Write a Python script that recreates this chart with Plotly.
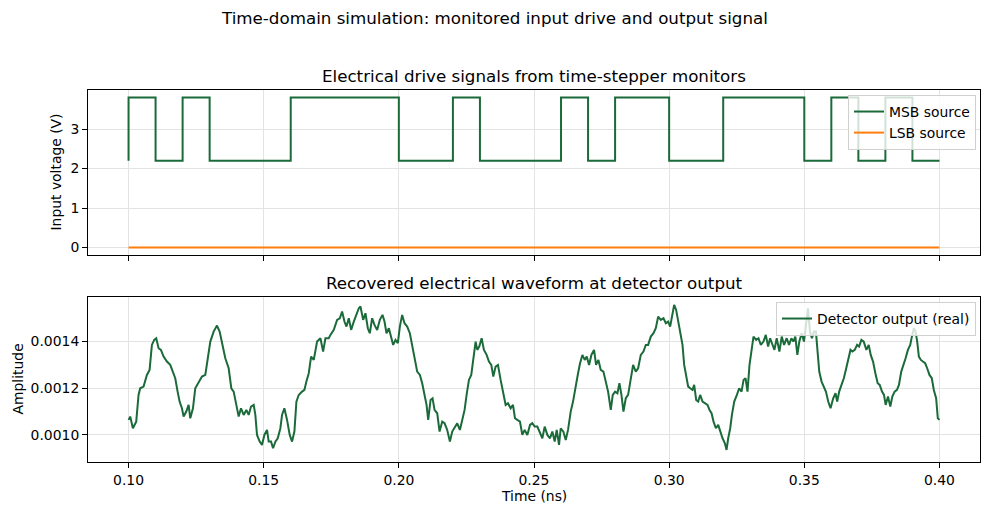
import plotly.graph_objects as go

# ---------------- data ----------------
bit_start = 0.10
bit_period = 0.01
msb_initial = 2.2
msb_low, msb_high = 2.2, 3.8
msb_bits = [1, 0, 1, 0, 0, 0, 1, 1, 1, 1,
            0, 0, 1, 0, 0, 0, 1, 0, 1, 1,
            0, 0, 1, 1, 1, 0, 1, 0, 1, 0]
lsb_time = [0.10, 0.40]
lsb_value = [0.0, 0.0]

det_time = [
    0.10000, 0.10062, 0.10160, 0.10284, 0.10370, 0.10432, 0.10556, 0.10679, 0.10778, 0.10864,
    0.10951, 0.11025, 0.11111, 0.11198, 0.11296, 0.11420, 0.11543, 0.11642, 0.11728, 0.11815,
    0.11889, 0.11975, 0.12037, 0.12136, 0.12222, 0.12284, 0.12383, 0.12469, 0.12593, 0.12716,
    0.12840, 0.12926, 0.13025, 0.13148, 0.13272, 0.13370, 0.13457, 0.13580, 0.13704, 0.13802,
    0.13889, 0.13988, 0.14074, 0.14160, 0.14259, 0.14358, 0.14444, 0.14531, 0.14630, 0.14691,
    0.14753, 0.14852, 0.14938, 0.15025, 0.15123, 0.15185, 0.15272, 0.15346, 0.15432, 0.15519,
    0.15617, 0.15679, 0.15765, 0.15864, 0.15963, 0.16049, 0.16136, 0.16210, 0.16296, 0.16420,
    0.16506, 0.16580, 0.16667, 0.16753, 0.16852, 0.16975, 0.17099, 0.17198, 0.17284, 0.17407,
    0.17469, 0.17593, 0.17716, 0.17815, 0.17901, 0.17988, 0.18062, 0.18148, 0.18235, 0.18333,
    0.18432, 0.18519, 0.18580, 0.18679, 0.18765, 0.18852, 0.18926, 0.19012, 0.19099, 0.19198,
    0.19296, 0.19395, 0.19469, 0.19543, 0.19630, 0.19716, 0.19790, 0.19877, 0.19963, 0.20037,
    0.20123, 0.20210, 0.20309, 0.20407, 0.20494, 0.20580, 0.20679, 0.20778, 0.20864, 0.20951,
    0.21025, 0.21086, 0.21173, 0.21247, 0.21321, 0.21420, 0.21506, 0.21605, 0.21691, 0.21790,
    0.21889, 0.21975, 0.22062, 0.22160, 0.22259, 0.22346, 0.22432, 0.22506, 0.22593, 0.22679,
    0.22753, 0.22840, 0.22901, 0.22975, 0.23062, 0.23148, 0.23247, 0.23333, 0.23420, 0.23494,
    0.23580, 0.23667, 0.23765, 0.23864, 0.23951, 0.24037, 0.24136, 0.24222, 0.24296, 0.24383,
    0.24481, 0.24568, 0.24654, 0.24753, 0.24852,
    0.24938, 0.25025, 0.25123, 0.25222, 0.25309, 0.25395, 0.25494, 0.25593, 0.25679, 0.25765,
    0.25840, 0.25926, 0.25988, 0.26086, 0.26173, 0.26259, 0.26358, 0.26444, 0.26543, 0.26630,
    0.26704, 0.26790, 0.26877, 0.26951, 0.27037, 0.27123, 0.27222, 0.27296, 0.27383, 0.27469,
    0.27568, 0.27654, 0.27741, 0.27840, 0.27914, 0.28000, 0.28086, 0.28160, 0.28235, 0.28309,
    0.28395, 0.28481, 0.28580, 0.28667, 0.28765, 0.28852, 0.28951, 0.29049, 0.29136, 0.29222,
    0.29321, 0.29420, 0.29506, 0.29593, 0.29691, 0.29790, 0.29877, 0.29963, 0.30037, 0.30123,
    0.30185, 0.30259, 0.30333, 0.30407, 0.30494, 0.30556, 0.30630, 0.30704, 0.30778, 0.30864,
    0.30926, 0.31000, 0.31074, 0.31148, 0.31235, 0.31321, 0.31420, 0.31494, 0.31568, 0.31642,
    0.31728, 0.31815, 0.31889, 0.31975, 0.32062, 0.32123, 0.32185, 0.32259,
    0.32322, 0.32408, 0.32506, 0.32592, 0.32678, 0.32752, 0.32826, 0.32899, 0.32973, 0.33047,
    0.33120, 0.33219, 0.33305, 0.33391, 0.33489, 0.33575, 0.33661, 0.33735, 0.33821, 0.33894,
    0.33980, 0.34079, 0.34165, 0.34251, 0.34349, 0.34435, 0.34521, 0.34595, 0.34668, 0.34742,
    0.34816, 0.34902, 0.34988, 0.35061, 0.35135, 0.35209, 0.35283, 0.35356, 0.35430, 0.35491,
    0.35553, 0.35639, 0.35725, 0.35799, 0.35885, 0.35971, 0.36069, 0.36155, 0.36216, 0.36290,
    0.36376, 0.36462, 0.36536, 0.36622, 0.36708, 0.36781, 0.36867, 0.36953, 0.37027, 0.37113,
    0.37199, 0.37297, 0.37383, 0.37457, 0.37543, 0.37629, 0.37715, 0.37789, 0.37875, 0.37948,
    0.38010, 0.38096, 0.38182, 0.38256, 0.38342, 0.38428, 0.38501, 0.38587, 0.38673, 0.38747,
    0.38833, 0.38919, 0.38993, 0.39054, 0.39115, 0.39177, 0.39238, 0.39312, 0.39386, 0.39472,
    0.39545, 0.39631, 0.39717, 0.39791, 0.39877, 0.39939, 0.40000,
]
det_value = [
    1.0643e-3, 1.0786e-3, 1.0286e-3, 1.0571e-3, 1.1714e-3, 1.2000e-3, 1.2071e-3, 1.2571e-3, 1.2786e-3, 1.3857e-3,
    1.4071e-3, 1.4143e-3, 1.3714e-3, 1.3643e-3, 1.3357e-3, 1.3143e-3, 1.3000e-3, 1.2643e-3, 1.2429e-3, 1.1857e-3,
    1.1429e-3, 1.1143e-3, 1.0786e-3, 1.1000e-3, 1.1286e-3, 1.0714e-3, 1.1143e-3, 1.2000e-3, 1.2286e-3, 1.2500e-3,
    1.2571e-3, 1.3286e-3, 1.4000e-3, 1.4429e-3, 1.4686e-3, 1.4429e-3, 1.4000e-3, 1.3286e-3, 1.2857e-3, 1.2000e-3,
    1.1857e-3, 1.1286e-3, 1.0786e-3, 1.1143e-3, 1.0857e-3, 1.1071e-3, 1.0857e-3, 1.1214e-3, 1.1286e-3, 1.0857e-3,
    1.0000e-3, 0.9714e-3, 0.9571e-3, 1.0000e-3, 1.0214e-3, 0.9714e-3, 0.9714e-3, 0.9429e-3, 0.9714e-3, 0.9857e-3,
    1.0286e-3, 1.0857e-3, 1.1143e-3, 1.0643e-3, 1.0000e-3, 0.9714e-3, 1.0143e-3, 1.1429e-3, 1.1714e-3, 1.1857e-3,
    1.1929e-3, 1.2286e-3, 1.2643e-3, 1.3357e-3, 1.3214e-3, 1.4000e-3, 1.4143e-3, 1.3571e-3, 1.4143e-3, 1.4143e-3,
    1.4286e-3, 1.4500e-3, 1.4929e-3, 1.5000e-3, 1.5286e-3, 1.4857e-3, 1.4643e-3, 1.5000e-3, 1.4500e-3, 1.4857e-3,
    1.5143e-3, 1.5429e-3, 1.5500e-3, 1.4929e-3, 1.5214e-3, 1.4571e-3, 1.4357e-3, 1.5000e-3, 1.4714e-3, 1.4500e-3,
    1.4929e-3, 1.5143e-3, 1.4857e-3, 1.4357e-3, 1.4571e-3, 1.4143e-3, 1.3857e-3, 1.4071e-3, 1.3929e-3, 1.4643e-3,
    1.5143e-3, 1.4786e-3, 1.4643e-3, 1.4357e-3, 1.3857e-3, 1.3286e-3, 1.2714e-3, 1.2571e-3, 1.2214e-3, 1.1714e-3,
    1.1286e-3, 1.0643e-3, 1.1500e-3, 1.1571e-3, 1.1071e-3, 1.0929e-3, 1.0143e-3, 1.0571e-3, 1.0500e-3, 1.0214e-3,
    0.9714e-3, 1.0143e-3, 1.0286e-3, 1.0500e-3, 1.0214e-3, 1.0714e-3, 1.1071e-3, 1.1714e-3, 1.2357e-3, 1.2571e-3,
    1.3286e-3, 1.4000e-3, 1.3643e-3, 1.3786e-3, 1.4143e-3, 1.3643e-3, 1.3429e-3, 1.3143e-3, 1.3000e-3, 1.2500e-3,
    1.2929e-3, 1.3000e-3, 1.2357e-3, 1.1857e-3, 1.1286e-3, 1.1357e-3, 1.1143e-3, 1.1286e-3, 1.0714e-3, 1.0643e-3,
    1.0571e-3, 1.0000e-3, 1.0214e-3, 1.0000e-3, 1.0429e-3,
    1.0500e-3, 1.0357e-3, 1.0357e-3, 1.0071e-3, 0.9857e-3, 1.0357e-3, 1.0000e-3, 0.9857e-3, 1.0143e-3, 0.9714e-3,
    1.0214e-3, 0.9571e-3, 1.0286e-3, 1.0143e-3, 0.9786e-3, 1.0214e-3, 1.1000e-3, 1.1429e-3, 1.2143e-3, 1.2643e-3,
    1.3071e-3, 1.3429e-3, 1.3214e-3, 1.3357e-3, 1.3000e-3, 1.3429e-3, 1.3643e-3, 1.3000e-3, 1.3214e-3, 1.2786e-3,
    1.2714e-3, 1.2286e-3, 1.1857e-3, 1.1071e-3, 1.1714e-3, 1.1857e-3, 1.1786e-3, 1.2214e-3, 1.1714e-3, 1.1000e-3,
    1.1571e-3, 1.1714e-3, 1.2429e-3, 1.3000e-3, 1.2714e-3, 1.2857e-3, 1.3429e-3, 1.3571e-3, 1.3857e-3, 1.3857e-3,
    1.4214e-3, 1.4357e-3, 1.4571e-3, 1.5071e-3, 1.4929e-3, 1.5000e-3, 1.4786e-3, 1.4857e-3, 1.4643e-3, 1.5286e-3,
    1.5571e-3, 1.5357e-3, 1.4857e-3, 1.4500e-3, 1.3857e-3, 1.3000e-3, 1.2429e-3, 1.2071e-3, 1.2000e-3, 1.1929e-3,
    1.2143e-3, 1.1500e-3, 1.1429e-3, 1.1714e-3, 1.1429e-3, 1.1357e-3, 1.1286e-3, 1.1071e-3, 1.0929e-3, 1.0571e-3,
    1.0286e-3, 1.0429e-3, 1.0143e-3, 0.9857e-3, 0.9643e-3, 0.9357e-3, 0.9857e-3, 1.0286e-3,
    1.0857e-3, 1.1429e-3, 1.1714e-3, 1.2000e-3, 1.1857e-3, 1.2357e-3, 1.2429e-3, 1.1857e-3, 1.3000e-3, 1.3571e-3,
    1.4214e-3, 1.4071e-3, 1.4143e-3, 1.3857e-3, 1.4000e-3, 1.4286e-3, 1.3786e-3, 1.4143e-3, 1.3857e-3, 1.3643e-3,
    1.4143e-3, 1.3571e-3, 1.4214e-3, 1.3857e-3, 1.4143e-3, 1.3857e-3, 1.4143e-3, 1.4000e-3, 1.4214e-3, 1.3429e-3,
    1.4000e-3, 1.4357e-3, 1.4000e-3, 1.4857e-3, 1.5429e-3, 1.4429e-3, 1.4143e-3, 1.4429e-3, 1.4429e-3, 1.3571e-3,
    1.2714e-3, 1.2286e-3, 1.2071e-3, 1.1857e-3, 1.1429e-3, 1.1143e-3, 1.1571e-3, 1.1786e-3, 1.1429e-3, 1.1857e-3,
    1.2143e-3, 1.2429e-3, 1.2786e-3, 1.3286e-3, 1.3643e-3, 1.3571e-3, 1.3643e-3, 1.3857e-3, 1.3786e-3, 1.4071e-3,
    1.4000e-3, 1.3643e-3, 1.3857e-3, 1.3429e-3, 1.3143e-3, 1.2643e-3, 1.2214e-3, 1.2143e-3, 1.1857e-3, 1.1714e-3,
    1.1286e-3, 1.1643e-3, 1.1214e-3, 1.1643e-3, 1.1857e-3, 1.1929e-3, 1.2143e-3, 1.2714e-3, 1.3000e-3, 1.3286e-3,
    1.3643e-3, 1.3857e-3, 1.4286e-3, 1.4571e-3, 1.4429e-3, 1.4000e-3, 1.3357e-3, 1.3214e-3, 1.3143e-3, 1.3071e-3,
    1.2857e-3, 1.2571e-3, 1.2429e-3, 1.1929e-3, 1.1571e-3, 1.0714e-3, 1.0643e-3,
]

x_ticks = [0.10, 0.15, 0.20, 0.25, 0.30, 0.35, 0.40]
volt_ticks = [0, 1, 2, 3]
amp_ticks = [0.0010, 0.0012, 0.0014]

# ---------------- build step waveform ----------------
msb_t = [bit_start]
msb_v = [msb_initial]
for i, b in enumerate(msb_bits):
    msb_t.append(bit_start + i * bit_period)
    msb_v.append(msb_high if b else msb_low)
msb_t.append(bit_start + len(msb_bits) * bit_period)
msb_v.append(msb_high if msb_bits[-1] else msb_low)

GREEN = "#1b6a3a"
ORANGE = "#ff7f0e"
FONT = "DejaVu Sans"
W, H = 989, 515
FS = 13.9
FT = 16.7

fig = go.Figure()
fig.add_trace(go.Scatter(x=msb_t, y=msb_v, mode="lines", line=dict(color=GREEN, width=2, shape="hv"),
                         name="MSB source", xaxis="x", yaxis="y", legend="legend"))
fig.add_trace(go.Scatter(x=lsb_time, y=lsb_value, mode="lines", line=dict(color=ORANGE, width=2),
                         name="LSB source", xaxis="x", yaxis="y", legend="legend"))
fig.add_trace(go.Scatter(x=det_time, y=det_value, mode="lines", line=dict(color=GREEN, width=2),
                         name="Detector output (real)", xaxis="x2", yaxis="y2", legend="legend2"))

xdom = [88 / W, 980 / W]
top_dom = [(H - 255) / H, (H - 90) / H]
bot_dom = [(H - 462) / H, (H - 297) / H]

axis_common = dict(showline=True, mirror=True, linecolor="black", linewidth=1,
                   ticks="outside", ticklen=5, tickwidth=1, tickcolor="black",
                   showgrid=True, gridcolor="#e3e3e3", gridwidth=1, zeroline=False,
                   tickfont=dict(family=FONT, size=FS, color="black"))

legend_common = dict(bgcolor="rgba(255,255,255,0.8)", bordercolor="#d0d0d0", borderwidth=1,
                     font=dict(family=FONT, size=FS, color="black"), xanchor="right", yanchor="top",
                     tracegroupgap=0, itemwidth=30)

fig.update_layout(
    width=W, height=H,
    margin=dict(l=0, r=0, t=0, b=0),
    paper_bgcolor="white", plot_bgcolor="white",
    font=dict(family=FONT, color="black"),
    xaxis=dict(domain=xdom, range=[0.085, 0.415], tickvals=x_ticks, showticklabels=False,
               anchor="y", **axis_common),
    yaxis=dict(domain=top_dom, range=[-0.19, 3.99], tickvals=volt_ticks, anchor="x", **axis_common),
    xaxis2=dict(domain=xdom, range=[0.085, 0.415], tickvals=x_ticks, tickformat=".2f",
                anchor="y2", matches="x", **axis_common),
    yaxis2=dict(domain=bot_dom, range=[0.000884, 0.001591], tickvals=amp_ticks, tickformat=".4f",
                anchor="x2", **axis_common),
    legend=dict(x=976 / W, y=(H - 95) / H, **legend_common),
    legend2=dict(x=976 / W, y=(H - 302) / H, **legend_common),
    showlegend=True,
)

cx = (xdom[0] + xdom[1]) / 2
ann = [
    dict(text="Time-domain simulation: monitored input drive and output signal", x=0.5, y=(H - 18) / H,
         font=dict(size=FT)),
    dict(text="Electrical drive signals from time-stepper monitors", x=cx, y=(H - 76) / H,
         font=dict(size=FT)),
    dict(text="Recovered electrical waveform at detector output", x=cx, y=(H - 283) / H,
         font=dict(size=FT)),
    dict(text="Time (ns)", x=cx, y=(H - 496) / H, font=dict(size=FS)),
    dict(text="Input voltage (V)", x=55 / W, y=(top_dom[0] + top_dom[1]) / 2, textangle=-90,
         font=dict(size=FS)),
    dict(text="Amplitude", x=17 / W, y=(bot_dom[0] + bot_dom[1]) / 2, textangle=-90,
         font=dict(size=FS)),
]
for a in ann:
    a.update(xref="paper", yref="paper", showarrow=False, xanchor="center", yanchor="middle")
    a["font"].update(family=FONT, color="black")
fig.update_layout(annotations=ann)

fig.write_html("out.html")
